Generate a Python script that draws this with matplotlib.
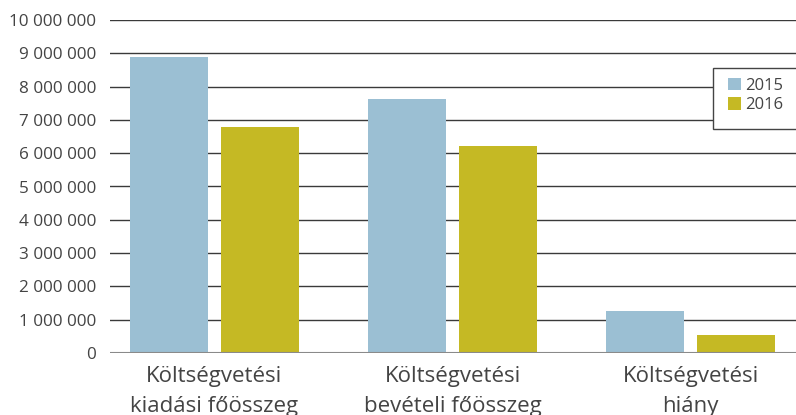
import numpy as np
import matplotlib
matplotlib.use("Agg")
import matplotlib.pyplot as plt
from matplotlib.patches import Rectangle
from matplotlib.ticker import FuncFormatter

categories = ["Költségvetési\nkiadási főösszeg", "Költségvetési\nbevételi főösszeg", "Költségvetési\nhiány"]
years = ["2015", "2016"]
values_2015 = [8890000, 7630000, 1260000]
values_2016 = [6790000, 6220000, 540000]
colors = ["#9bbfd3", "#c5b924"]
text_color = "#444444"

plt.rcParams["font.family"] = ["Open Sans", "DejaVu Sans"]

fig = plt.figure(figsize=(7.96, 4.15), dpi=100)
ax = fig.add_axes([110 / 796, 62 / 415, 686 / 796, 333 / 415])

x = np.arange(len(categories))
w = 0.328
off = 0.191
b1 = ax.bar(x - off, values_2015, w, color=colors[0], label=years[0], zorder=3)
b2 = ax.bar(x + off, values_2016, w, color=colors[1], label=years[1], zorder=3)

ax.set_xlim(-0.439, 2.443)
ax.set_ylim(0, 10000000)
ax.set_yticks(np.arange(0, 10000001, 1000000))
ax.yaxis.set_major_formatter(FuncFormatter(lambda v, p: "{:,}".format(int(v)).replace(",", " ")))
ax.grid(axis="y", color="#3a3a3a", linewidth=1, zorder=0)
for s in ax.spines.values():
    s.set_visible(False)
ax.axhline(0, color="#8a8a8a", linewidth=1.5, zorder=4)
ax.tick_params(axis="y", length=0, pad=10, labelsize=12.3, labelcolor=text_color)
ax.tick_params(axis="x", length=0, pad=9, labelsize=16, labelcolor=text_color)
ax.set_xticks(x)
ax.set_xticklabels(categories, linespacing=1.6)

# legend box runs off the right edge like in the original
fig.patches.append(Rectangle((713 / 796, 1 - 129 / 415), 100 / 796, 61 / 415,
                             transform=fig.transFigure, facecolor="white",
                             edgecolor="#444444", linewidth=1, zorder=5))
leg = fig.legend(handles=[b1, b2], loc="upper left", bbox_to_anchor=(728 / 796, 1 - 78 / 415),
                 fontsize=12, frameon=False, handlelength=0.75, handleheight=0.75,
                 handletextpad=0.25, labelspacing=0.2, borderpad=0, borderaxespad=0)
leg.set_zorder(6)
for t in leg.get_texts():
    t.set_color(text_color)

plt.savefig("out.png", dpi=100)
